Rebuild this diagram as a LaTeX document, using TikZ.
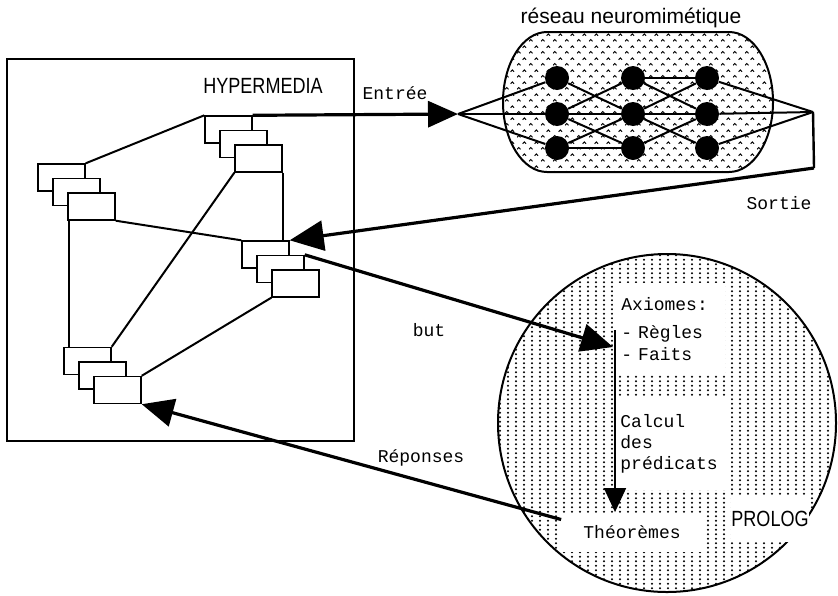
\documentclass[tikz,border=0pt]{standalone}
\usepackage{fontspec}
\setmonofont{Liberation Mono}
\newfontfamily\hfont[FakeStretch=0.82]{Liberation Sans}
\newfontfamily\rfont{Liberation Sans}
\usetikzlibrary{arrows.meta,patterns}

\pgfdeclarepatternformonly{prologdots}{\pgfqpoint{-0.5pt}{-0.5pt}}{\pgfqpoint{4.5pt}{2.75pt}}{\pgfqpoint{4pt}{2.25pt}}{%
  \pgfpathcircle{\pgfqpoint{2pt}{1.1pt}}{0.55pt}\pgfusepath{fill}}

\pgfdeclarepatternformonly{carets}{\pgfqpoint{0pt}{0pt}}{\pgfqpoint{6pt}{6pt}}{\pgfqpoint{6pt}{6pt}}{%
  \pgfsetlinewidth{0.5pt}
  \pgfpathmoveto{\pgfqpoint{0.6pt}{0.9pt}}\pgfpathlineto{\pgfqpoint{1.5pt}{1.9pt}}\pgfpathlineto{\pgfqpoint{2.4pt}{0.9pt}}
  \pgfpathmoveto{\pgfqpoint{3.6pt}{3.9pt}}\pgfpathlineto{\pgfqpoint{4.5pt}{4.9pt}}\pgfpathlineto{\pgfqpoint{5.4pt}{3.9pt}}
  \pgfusepath{stroke}}

\begin{document}
\begin{tikzpicture}[x=0.5pt,y=-0.5pt,
  page/.style={draw,fill=white,line width=0.7pt,minimum width=23.5pt,minimum height=13.5pt,inner sep=0pt},
  neuron/.style={circle,fill=black,minimum size=12pt,inner sep=0pt},
  link/.style={line width=1pt},
  flow/.style={line width=1.6pt,-{Triangle[length=16pt,width=14pt]}},
  tt/.style={font=\ttfamily\fontsize{9}{11}\selectfont},
  blanc/.style={fill=white,inner sep=0pt}]

\useasboundingbox (0,0) rectangle (838,595);

% hypermedia
\draw[line width=0.8pt] (7,59) rectangle (354,441);
\node[font=\hfont\fontsize{11}{13}\selectfont] (hyp) at (263,86) {HYPERMEDIA};

\node[page] (a1) at (228.5,129.5) {};
\node[page] (a2) at (243.5,144) {};
\node[page] (a3) at (258.5,158.5) {};

\node[page] (b1) at (61.5,177.5) {};
\node[page] (b2) at (76.5,192) {};
\node[page] (b3) at (91.5,206.5) {};

\node[page] (c1) at (265.5,254.5) {};
\node[page] (c2) at (280.5,269) {};
\node[page] (c3) at (295.5,283.5) {};

\node[page] (d1) at (87.5,361) {};
\node[page] (d2) at (102.5,375.5) {};
\node[page] (d3) at (117.5,390) {};

\draw[link] (a1.north west) -- (b1.north east);
\draw[link] (a3.south west) -- (d1.north east);
\draw[link] (a3.south east) -- (a3.south east |- c1.north);
\draw[link] ([xshift=1pt]b3.south west) -- ([xshift=1pt]b3.south west |- d1.north);
\draw[link] (b3.south east) -- (c1.north west);
\draw[link] (c3.south west) -- (d3.north east);

% reseau
\node[font=\rfont\fontsize{10.5}{12}\selectfont] (rn) at (631,18) {réseau neuromimétique};
\draw[line width=1pt,pattern=carets] (547,32) -- (729,32)
  arc[start angle=-90,end angle=90,x radius=44,y radius=70] -- (547,172)
  arc[start angle=90,end angle=270,x radius=44,y radius=70] -- cycle;

\node[neuron] (n11) at (557,78) {};
\node[neuron] (n12) at (557,114) {};
\node[neuron] (n13) at (557,148) {};
\node[neuron] (n21) at (633,78) {};
\node[neuron] (n22) at (633,114) {};
\node[neuron] (n23) at (633,148) {};
\node[neuron] (n31) at (707,78) {};
\node[neuron] (n32) at (707,114) {};
\node[neuron] (n33) at (707,148) {};

\coordinate (in) at (458,114);
\coordinate (out) at (813,112);
\coordinate (outb) at (814,168);

\draw[link] (in) -- (n11);
\draw[link] (in) -- (n12);
\draw[link] (in) -- (n13);
\draw[link] (n11) -- (n22);
\draw[link] (n12) -- (n21);
\draw[link] (n12) -- (n22);
\draw[link] (n12) -- (n23);
\draw[link] (n13) -- (n22);
\draw[link] (n13) -- (n23);
\draw[link] (n21) -- (n31);
\draw[link] (n21) -- (n32);
\draw[link] (n22) -- (n31);
\draw[link] (n22) -- (n32);
\draw[link] (n22) -- (n33);
\draw[link] (n23) -- (n32);
\draw[link] (n31) -- (out);
\draw[link] (n32) -- (out);
\draw[link] (n33) -- (out);
\draw[line width=1.2pt] (out) -- (outb);

\draw[flow,-{Triangle[length=15pt,width=13pt]}] (a1.north east) -- (in);
\node[tt] (ent) at (395,93) {Entrée};
\draw[flow,-{Triangle[length=17pt,width=15pt]}] (outb) -- (c1.north east);
\node[tt] (sor) at (779,203) {Sortie};

% prolog
\draw[line width=1pt,pattern=prologdots] (667,423) circle[radius=169];

\node[blanc,tt,anchor=north west,minimum height=46pt,text width=48pt,align=left,inner xsep=4pt] (ax) at (613,283) {Axiomes:\\[3pt]- Règles\\- Faits};
\node[blanc,tt,anchor=north west,minimum height=46.5pt,text width=54pt,align=left,inner xsep=1.5pt,font=\ttfamily\fontsize{9}{10.3}\selectfont] (calc) at (617,397) {Calcul\\des\\prédicats};
\node[blanc,tt,minimum width=70.5pt,minimum height=19.5pt] (th) at (632,532) {Théorèmes};
\node[blanc,font=\hfont\fontsize{11}{13}\selectfont,minimum width=33pt,minimum height=22.5pt] (pro) at (770,519) {PROLOG};

\coordinate (ctop) at (615,330);
\coordinate (goal) at (613,347);
\draw[line width=0.8pt,-{Triangle[length=12pt,width=11pt]}] (ctop) -- (ctop |- th.north);

\draw[flow] (c2.north east) -- (goal);
\node[tt] (but) at (429,330) {but};
\draw[flow] (th.170) -- (d3.south east);
\node[tt] (rep) at (421,458) {Réponses};
\end{tikzpicture}
\end{document}
